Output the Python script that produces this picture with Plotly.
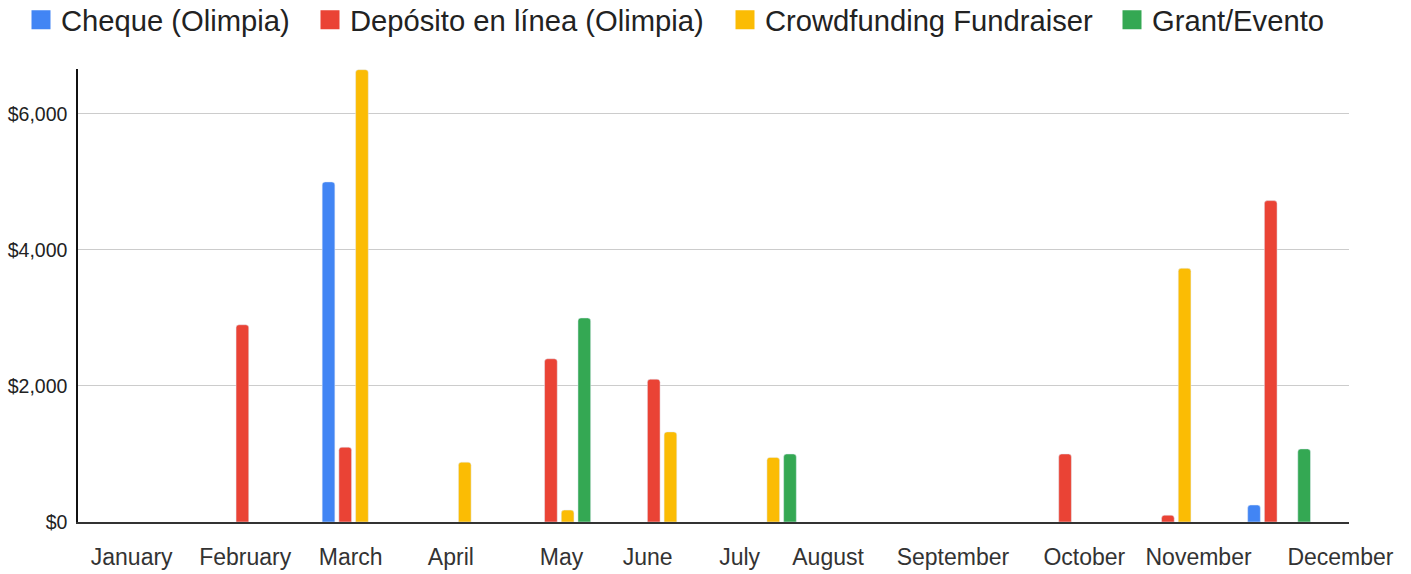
import plotly.graph_objects as go

months = ["January", "February", "March", "April", "May", "June", "July",
          "August", "September", "October", "November", "December"]

series_names = ["Cheque (Olimpia)", "Depósito en línea (Olimpia)",
                "Crowdfunding Fundraiser", "Grant/Evento"]

cheque = [None, None, 5000, None, None, None, None, None, None, None, None, 250]
deposito = [None, 2900, 1100, None, 2400, 2100, None, None, None, 1000, 100, 4725]
crowdfunding = [None, None, 6650, 880, 175, 1325, 950, None, None, None, 3730, None]
grant = [None, None, None, None, 3000, None, 1000, None, None, None, None, 1075]

colors = ["#4285F4", "#EA4335", "#FBBC04", "#34A853"]
values = [cheque, deposito, crowdfunding, grant]

# layout geometry (pixels)
W, H = 1411, 574
ML, MR, MT, MB = 78, 62, 69, 52
legend_left_px = [21, 310, 725, 1112]   # where each legend entry begins
legend_names = ["legend", "legend2", "legend3", "legend4"]
# month label placement along the category axis (the source chart spreads
# its labels rather than centring them under each group)
label_pos = [-0.158, 0.946, 1.972, 2.946, 4.022, 4.859, 5.754, 6.614,
             7.828, 9.106, 10.217, 11.597]

font_family = "Liberation Sans, Arial, sans-serif"

fig = go.Figure()
for name, vals, col in zip(series_names, values, colors):
    fig.add_trace(go.Bar(x=months, y=vals, name=name, marker_color=col,
                         marker_cornerradius=3, showlegend=False))
# legend proxies (bigger square swatches)
for name, col, lg in zip(series_names, colors, legend_names):
    fig.add_trace(go.Scatter(x=[None], y=[None], mode="markers", name=name,
                             legend=lg,
                             marker=dict(symbol="square", size=16, color=col,
                                         line=dict(color=col, width=3))))

plot_w = W - ML - MR
legend_layout = {}
for lg, px in zip(legend_names, legend_left_px):
    legend_layout[lg] = dict(
        orientation="h", x=(px - ML) / plot_w, y=1.165,
        xanchor="left", yanchor="top",
        font=dict(size=29.2, color="#222222", family=font_family),
        itemsizing="trace", bgcolor="rgba(0,0,0,0)")

fig.update_layout(
    width=W, height=H,
    paper_bgcolor="white", plot_bgcolor="white",
    barmode="group", bargap=0.35, bargroupgap=0.24,
    margin=dict(l=ML, r=MR, t=MT, b=MB, autoexpand=False),
    font=dict(family=font_family, color="#222222"),
    xaxis=dict(type="category", categoryorder="array", categoryarray=months,
               range=[-0.68, 11.68], showgrid=False,
               showline=True, linecolor="#333333", linewidth=1.5,
               tickmode="array", tickvals=label_pos, ticktext=months,
               tickangle=0, automargin=False,
               ticks="outside", ticklen=14, tickcolor="rgba(0,0,0,0)",
               tickfont=dict(size=23, color="#333333"), zeroline=False),
    yaxis=dict(range=[0, 6660], dtick=2000, tickprefix="$", tickformat=",d",
               showgrid=True, gridcolor="#cccccc", gridwidth=1,
               showline=True, linecolor="#111111", linewidth=1.5,
               zeroline=False, ticks="outside", ticklen=5, automargin=False,
               tickcolor="rgba(0,0,0,0)",
               tickfont=dict(size=19.5, color="#222222")),
    **legend_layout,
)

fig.write_html("out.html", config={"displayModeBar": False},
               post_script="document.body.style.margin='0px';")
